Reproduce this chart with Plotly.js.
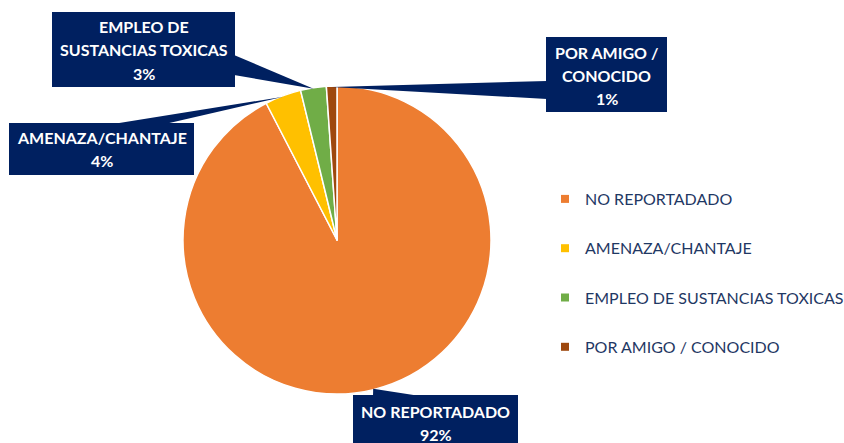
<!DOCTYPE html>
<html>
<head>
<meta charset="utf-8">
<script src="https://cdn.plot.ly/plotly-3.0.1.min.js"></script>
<style>html,body{margin:0;padding:0;background:#fff;overflow:hidden;width:844px;height:443px;}#chart{width:844px;height:443px;overflow:hidden;}</style>
</head>
<body>
<div id="chart"></div>
<script>
// ---- data ----
const labels = ['NO REPORTADADO', 'AMENAZA/CHANTAJE', 'EMPLEO DE SUSTANCIAS TOXICAS', 'POR AMIGO / CONOCIDO'];
const values = [92.4, 3.8, 2.7, 1.1];
const pctLabels = ['92%', '4%', '3%', '1%'];
const calloutNames = ['NO REPORTADADO', 'AMENAZA/CHANTAJE', 'EMPLEO DE<br>SUSTANCIAS TOXICAS', 'POR AMIGO /<br>CONOCIDO'];
const colors = ['#ED7D31', '#FFC000', '#70AD47', '#9E480E'];

// ---- layout geometry (pixels) ----
const W = 844, H = 443;
const cx = 337, cy = 240, R = 154;
const boxes = [[353, 395, 518, 443], [9, 123, 194, 175], [52, 12, 235, 87], [546, 37, 667, 112]];
const textCenterY = [422.5, 149, 50, 75];
const wedgeBase = [[[373, 396], [420, 396]], [[113, 124], [165, 124]], [[234, 55], [234, 75]], [[547, 81], [547, 99]]];
const BOX = '#002060';
const LINE_GAP = 23;

const px = x => x / W;
const py = y => 1 - y / H;

const total = values.reduce((a, b) => a + b, 0);
let cum = 0;
const tips = values.map(v => {
  const th = 2 * Math.PI * (cum + v / 2) / total;
  cum += v;
  return [cx + (R - 1) * Math.sin(th), cy - (R - 1) * Math.cos(th)];
});

const shapes = [];
const annotations = [];
labels.forEach((l, i) => {
  const b = boxes[i];
  const t = tips[i];
  const wb = wedgeBase[i];
  shapes.push({
    type: 'path', xref: 'paper', yref: 'paper', layer: 'above',
    path: `M ${px(t[0])} ${py(t[1])} L ${px(wb[0][0])} ${py(wb[0][1])} L ${px(wb[1][0])} ${py(wb[1][1])} Z`,
    fillcolor: BOX, line: {width: 0}
  });
  shapes.push({
    type: 'rect', xref: 'paper', yref: 'paper', layer: 'above',
    x0: px(b[0]), x1: px(b[2]), y0: py(b[3]), y1: py(b[1]),
    fillcolor: BOX, line: {width: 0}
  });
  const lines = calloutNames[i].split('<br>').concat([pctLabels[i]]);
  const n = lines.length;
  lines.forEach((ln, k) => {
    annotations.push({
      xref: 'paper', yref: 'paper',
      x: px((b[0] + b[2]) / 2),
      y: py(textCenterY[i] + (k - (n - 1) / 2) * LINE_GAP),
      xanchor: 'center', yanchor: 'middle', showarrow: false,
      text: '<b>' + ln + '</b>',
      font: {family: 'Lato, sans-serif', size: 16, color: '#FFFFFF'}
    });
  });
});

const traces = [{
  type: 'pie',
  labels: labels,
  values: values,
  sort: false,
  direction: 'clockwise',
  rotation: 0,
  textinfo: 'none',
  hoverinfo: 'label+percent',
  showlegend: false,
  marker: {colors: colors, line: {color: '#FFFFFF', width: 1.5}},
  domain: {x: [px(cx - R), px(cx + R)], y: [py(cy + R), py(cy - R)]}
}];
labels.forEach((l, i) => {
  traces.push({
    type: 'scatter', mode: 'markers', x: [null], y: [null],
    name: l, legendgroup: 'g' + i, showlegend: true,
    marker: {symbol: 'square', size: 8, color: colors[i]},
    hoverinfo: 'skip'
  });
});

const layout = {
  width: W, height: H,
  margin: {l: 0, r: 0, t: 0, b: 0, pad: 0, autoexpand: false},
  paper_bgcolor: '#FFFFFF', plot_bgcolor: '#FFFFFF',
  xaxis: {visible: false}, yaxis: {visible: false},
  font: {family: 'Lato, sans-serif', color: '#1F3864'},
  showlegend: true,
  legend: {
    x: px(545), y: py(182), xanchor: 'left', yanchor: 'top',
    font: {family: 'Lato, sans-serif', size: 16, color: '#1F3864'},
    tracegroupgap: 25.5, bgcolor: 'rgba(0,0,0,0)', borderwidth: 0
  },
  shapes: shapes,
  annotations: annotations
};

Plotly.newPlot('chart', traces, layout, {displayModeBar: false, staticPlot: true});
</script>
</body>
</html>
